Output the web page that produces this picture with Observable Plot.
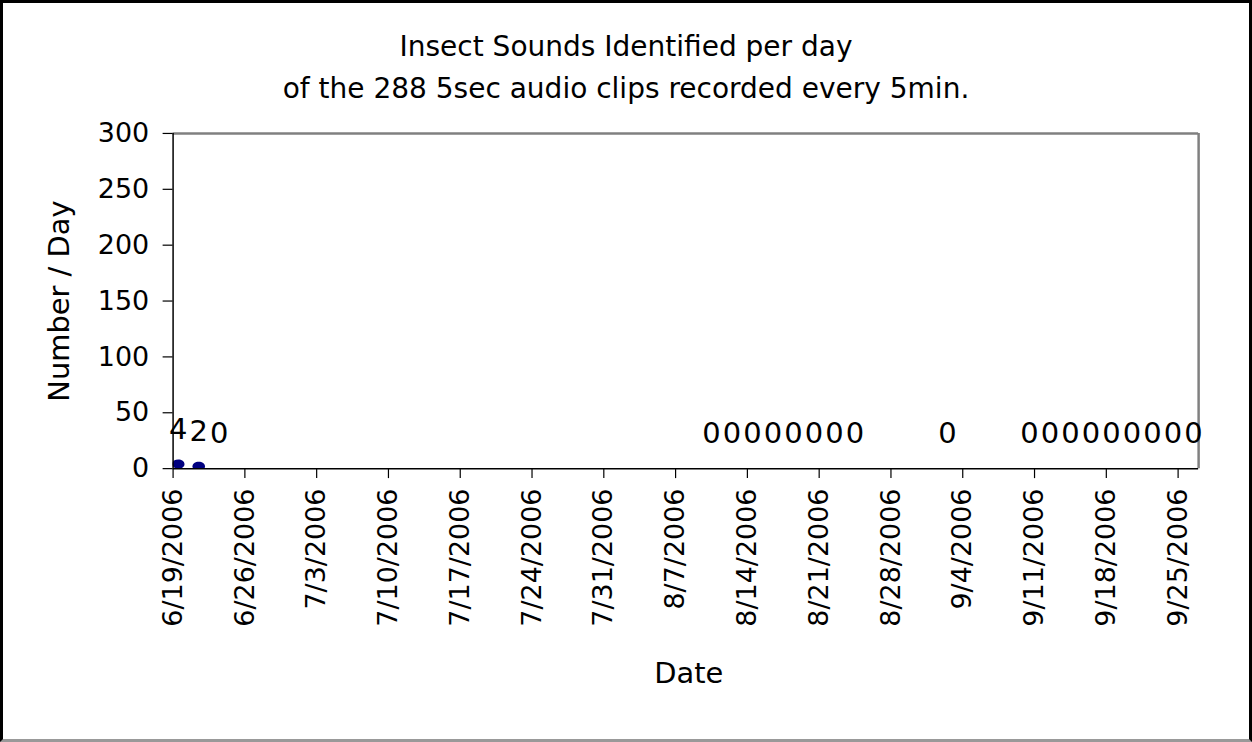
<!DOCTYPE html>
<html><head><meta charset="utf-8">
<script src="https://cdn.jsdelivr.net/npm/d3@7"></script>
<script src="https://cdn.jsdelivr.net/npm/@observablehq/plot@0.6"></script>
<style>
body{margin:0;background:#fff;}
#frame{position:relative;width:1252px;height:742px;box-sizing:border-box;border:3px solid #000;border-bottom-color:#999;background:#fff;font-family:"DejaVu Sans",sans-serif;overflow:hidden;}
#title{position:absolute;left:0;right:0;top:23px;text-align:center;font-size:28px;line-height:42px;color:#000;}
#chart{position:absolute;left:-3px;top:107px;}
</style></head><body>
<div id="frame">
<div id="title">Insect Sounds Identified per day<br>of the 288 5sec audio clips recorded every 5min.</div>
<div id="chart"></div>
</div>
<script>
const dates = ["2006-06-19","2006-06-21","2006-06-23",
  "2006-08-10","2006-08-12","2006-08-14","2006-08-16","2006-08-18","2006-08-20","2006-08-22","2006-08-24",
  "2006-09-02",
  "2006-09-10","2006-09-12","2006-09-14","2006-09-16","2006-09-18","2006-09-20","2006-09-22","2006-09-24","2006-09-26"];
const counts = [4,2,0, 0,0,0,0,0,0,0,0, 0, 0,0,0,0,0,0,0,0,0];
const xDomain = ["2006-06-19","2006-09-27"];
const tickDates = ["2006-06-19","2006-06-26","2006-07-03","2006-07-10","2006-07-17","2006-07-24","2006-07-31",
  "2006-08-07","2006-08-14","2006-08-21","2006-08-28","2006-09-04","2006-09-11","2006-09-18","2006-09-25"];
const tickLabels = ["6/19/2006","6/26/2006","7/3/2006","7/10/2006","7/17/2006","7/24/2006","7/31/2006",
  "8/7/2006","8/14/2006","8/21/2006","8/28/2006","9/4/2006","9/11/2006","9/18/2006","9/25/2006"];
const yTicks = [0,50,100,150,200,250,300];
const xTitle = "Date";
const yTitle = "Number / Day";

const toDate = s => new Date(s + "T00:00:00Z");
const midDay = s => new Date(s + "T12:00:00Z");
const data = dates.map((d, i) => ({date: midDay(d), value: counts[i]}));
const ticks = tickDates.map(toDate);
const labelOf = new Map(ticks.map((t, i) => [+t, tickLabels[i]]));

// flattened (ellipse) marker like the stretched original
const ellipseSymbol = {
  draw(ctx) {
    const rx = 6.3, ry = 4.6, k = 0.5523;
    ctx.moveTo(rx, 0);
    ctx.bezierCurveTo(rx, ry * k, rx * k, ry, 0, ry);
    ctx.bezierCurveTo(-rx * k, ry, -rx, ry * k, -rx, 0);
    ctx.bezierCurveTo(-rx, -ry * k, -rx * k, -ry, 0, -ry);
    ctx.bezierCurveTo(rx * k, -ry, rx, -ry * k, rx, 0);
    ctx.closePath();
  }
};

const chart = Plot.plot({
  width: 1252,
  height: 630,
  marginTop: 23,
  marginBottom: 271,
  marginLeft: 173,
  marginRight: 51,
  style: {fontFamily: "DejaVu Sans, sans-serif", color: "#000", background: "transparent"},
  x: {type: "utc", domain: xDomain.map(toDate)},
  y: {domain: [0, 300]},
  marks: [
    Plot.ruleY([300], {stroke: "#808080", strokeWidth: 2.5}),
    Plot.ruleX([toDate(xDomain[1])], {stroke: "#808080", strokeWidth: 2.5}),
    Plot.dot(data.filter(d => d.value > 0), {x: "date", y: "value", symbol: ellipseSymbol, fill: "#000080", stroke: "none", clip: true}),
    Plot.ruleY([0], {stroke: "#000", strokeWidth: 1.5}),
    Plot.ruleX([toDate(xDomain[0])], {stroke: "#000", strokeWidth: 1.5}),
    Plot.axisY({ticks: yTicks, tickSize: 10, tickPadding: 14, fontSize: 27, label: null, strokeWidth: 1.2}),
    Plot.axisX({ticks: ticks, tickFormat: d => labelOf.get(+d), tickRotate: -90, tickSize: 10, tickPadding: 10, fontSize: 27, label: null, strokeWidth: 1.2}),
    Plot.text(data, {x: "date", y: "value", text: d => String(d.value), dy: -35, fontSize: 29}),
    Plot.text([xTitle], {frameAnchor: "bottom", dy: 215, dx: 3, fontSize: 29}),
    Plot.text([yTitle], {frameAnchor: "left", dx: -114, rotate: -90, textAnchor: "middle", fontSize: 29})
  ]
});
document.getElementById("chart").appendChild(chart);
</script>
</body></html>
